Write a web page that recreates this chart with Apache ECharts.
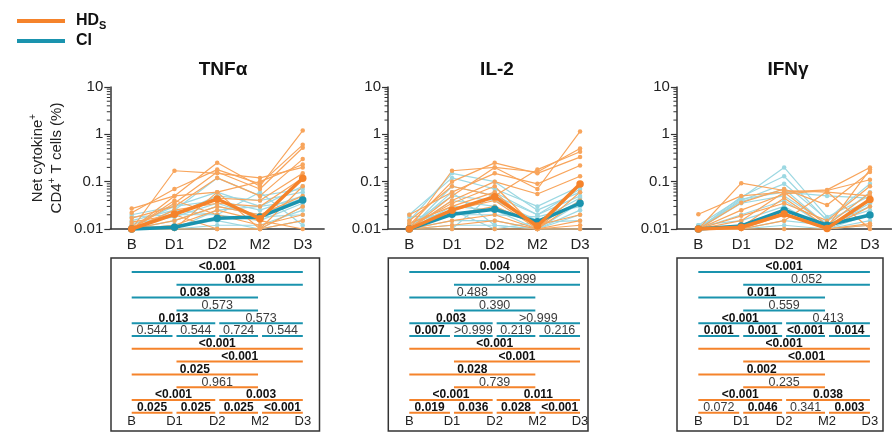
<!DOCTYPE html>
<html>
<head>
<meta charset="utf-8">
<script src="https://cdn.jsdelivr.net/npm/echarts@6/dist/echarts.min.js"></script>
<style>
html,body{margin:0;padding:0;background:#fff}
#chart{width:892px;height:444px}
</style>
</head>
<body>
<div id="chart"></div>
<script>
// ---- categories & labels ----
const timepoints = ['B', 'D1', 'D2', 'M2', 'D3'];
const panelTitles = ['TNFα', 'IL-2', 'IFNγ'];
const yTickLabels = { '-2': '0.01', '-1': '0.1', '0': '1', '1': '10' };

// ---- TNFα ----
const tnfHDsMean = [0.010, 0.0205, 0.043, 0.0165, 0.118];
const tnfCIMean  = [0.010, 0.0109, 0.0168, 0.018, 0.041];
const tnfHDsDonors = [
  [0.010, 0.170, 0.150, 0.120, 0.200],
  [0.027, 0.050, 0.250, 0.080, 1.200],
  [0.022, 0.070, 0.180, 0.090, 0.600],
  [0.010, 0.035, 0.160, 0.070, 0.520],
  [0.017, 0.030, 0.120, 0.050, 0.300],
  [0.010, 0.050, 0.060, 0.100, 0.230],
  [0.014, 0.020, 0.045, 0.040, 0.150],
  [0.010, 0.025, 0.035, 0.030, 0.120],
  [0.010, 0.015, 0.030, 0.020, 0.050],
  [0.010, 0.010, 0.060, 0.010, 0.030],
  [0.010, 0.040, 0.020, 0.012, 0.020],
  [0.012, 0.010, 0.010, 0.010, 0.015],
  [0.010, 0.012, 0.025, 0.015, 0.010],
  [0.010, 0.020, 0.010, 0.010, 0.080]
];
const tnfCIDonors = [
  [0.020, 0.030, 0.060, 0.030, 0.080],
  [0.015, 0.025, 0.120, 0.050, 0.070],
  [0.010, 0.020, 0.050, 0.040, 0.060],
  [0.012, 0.030, 0.040, 0.025, 0.050],
  [0.010, 0.015, 0.030, 0.020, 0.045],
  [0.010, 0.010, 0.025, 0.030, 0.040],
  [0.018, 0.020, 0.020, 0.015, 0.035],
  [0.010, 0.012, 0.015, 0.010, 0.030],
  [0.010, 0.010, 0.012, 0.012, 0.025],
  [0.013, 0.018, 0.035, 0.018, 0.020],
  [0.010, 0.010, 0.010, 0.010, 0.015],
  [0.010, 0.025, 0.020, 0.060, 0.012]
];

// ---- IL-2 ----
const il2HDsMean = [0.010, 0.025, 0.048, 0.0116, 0.089];
const il2CIMean  = [0.010, 0.0205, 0.026, 0.0143, 0.035];
const il2HDsDonors = [
  [0.010, 0.170, 0.200, 0.160, 0.500],
  [0.012, 0.100, 0.250, 0.150, 0.330],
  [0.020, 0.060, 0.150, 0.090, 0.220],
  [0.015, 0.080, 0.050, 0.180, 0.430],
  [0.010, 0.050, 0.200, 0.070, 1.150],
  [0.010, 0.040, 0.100, 0.055, 0.130],
  [0.013, 0.030, 0.060, 0.010, 0.090],
  [0.010, 0.025, 0.040, 0.010, 0.040],
  [0.010, 0.020, 0.030, 0.012, 0.020],
  [0.010, 0.015, 0.020, 0.010, 0.015],
  [0.010, 0.012, 0.015, 0.010, 0.012],
  [0.010, 0.010, 0.010, 0.010, 0.010],
  [0.011, 0.035, 0.080, 0.010, 0.060]
];
const il2CIDonors = [
  [0.015, 0.150, 0.100, 0.025, 0.060],
  [0.020, 0.120, 0.070, 0.030, 0.080],
  [0.010, 0.080, 0.050, 0.020, 0.050],
  [0.012, 0.050, 0.040, 0.015, 0.045],
  [0.010, 0.040, 0.030, 0.012, 0.040],
  [0.010, 0.030, 0.025, 0.010, 0.035],
  [0.018, 0.020, 0.020, 0.018, 0.030],
  [0.010, 0.015, 0.015, 0.010, 0.025],
  [0.010, 0.012, 0.012, 0.010, 0.020],
  [0.013, 0.025, 0.010, 0.014, 0.015],
  [0.010, 0.010, 0.060, 0.020, 0.070],
  [0.010, 0.060, 0.012, 0.010, 0.010]
];

// ---- IFNγ ----
const ifnHDsMean = [0.010, 0.0109, 0.0207, 0.0103, 0.042];
const ifnCIMean  = [0.010, 0.0116, 0.025, 0.012, 0.0198];
const ifnHDsDonors = [
  [0.0205, 0.050, 0.060, 0.067, 0.200],
  [0.010, 0.093, 0.065, 0.060, 0.050],
  [0.010, 0.036, 0.070, 0.032, 0.160],
  [0.010, 0.025, 0.055, 0.065, 0.110],
  [0.010, 0.019, 0.035, 0.015, 0.080],
  [0.010, 0.015, 0.060, 0.012, 0.058],
  [0.010, 0.012, 0.025, 0.010, 0.030],
  [0.010, 0.010, 0.020, 0.010, 0.013],
  [0.010, 0.010, 0.010, 0.010, 0.012],
  [0.010, 0.011, 0.045, 0.011, 0.180],
  [0.010, 0.010, 0.015, 0.062, 0.010]
];
const ifnCIDonors = [
  [0.012, 0.045, 0.200, 0.018, 0.050],
  [0.010, 0.048, 0.130, 0.015, 0.040],
  [0.010, 0.040, 0.090, 0.016, 0.090],
  [0.011, 0.038, 0.070, 0.012, 0.030],
  [0.010, 0.035, 0.050, 0.013, 0.025],
  [0.010, 0.020, 0.040, 0.011, 0.035],
  [0.012, 0.015, 0.030, 0.010, 0.020],
  [0.010, 0.012, 0.020, 0.010, 0.015],
  [0.010, 0.010, 0.015, 0.012, 0.060],
  [0.010, 0.010, 0.012, 0.010, 0.012],
  [0.010, 0.043, 0.060, 0.050, 0.045]
];

// ---- pairwise comparisons (index pairs into timepoints) and their row in the table ----
const comparisonPairs = [[0,4],[1,4],[0,3],[1,3],[0,2],[2,4],[0,1],[1,2],[2,3],[3,4]];
const comparisonRows  = [1, 2, 3, 4, 5, 5, 6, 6, 6, 6];

const tnfCIP  = ['<0.001','0.038','0.038','0.573','0.013','0.573','0.544','0.544','0.724','0.544'];
const tnfHDsP = ['<0.001','<0.001','0.025','0.961','<0.001','0.003','0.025','0.025','0.025','<0.001'];
const il2CIP  = ['0.004','>0.999','0.488','0.390','0.003','>0.999','0.007','>0.999','0.219','0.216'];
const il2HDsP = ['<0.001','<0.001','0.028','0.739','<0.001','0.011','0.019','0.036','0.028','<0.001'];
const ifnCIP  = ['<0.001','0.052','0.011','0.559','<0.001','0.413','0.001','0.001','<0.001','0.014'];
const ifnHDsP = ['<0.001','<0.001','0.002','0.235','<0.001','0.038','0.072','0.046','0.341','0.003'];

// ---- styling ----
const HD_MAIN = '#f5832b', CI_MAIN = '#1a93ae';
const HD_LIGHT = '#f8a55c', CI_LIGHT = '#9cd8e2';
const AXIS = '#333';
const FONT = '"Liberation Sans", Arial, sans-serif';

const panels = [
  { hdMean: tnfHDsMean, ciMean: tnfCIMean, hd: tnfHDsDonors, ci: tnfCIDonors, ciP: tnfCIP, hdP: tnfHDsP },
  { hdMean: il2HDsMean, ciMean: il2CIMean, hd: il2HDsDonors, ci: il2CIDonors, ciP: il2CIP, hdP: il2HDsP },
  { hdMean: ifnHDsMean, ciMean: ifnCIMean, hd: ifnHDsDonors, ci: ifnCIDonors, ciP: ifnCIP, hdP: ifnHDsP }
];

// plot geometry per panel: grid left / width for the line plots, table box bounds
const plotGrids = [
  { left: 110.3, width: 213.8 },
  { left: 388.0, width: 213.4 },
  { left: 676.9, width: 214.5 }
];
const tableBoxes = [
  { left: 111, right: 319.5, min: -0.484, max: 4.39 },
  { left: 388.3, right: 588, min: -0.492, max: 4.187 },
  { left: 677, right: 883, min: -0.497, max: 4.305 }
];
const PLOT_TOP = 87, PLOT_H = 142;
const TABLE_TOP = 258, TABLE_H = 173;
const ROW_MIN = -0.094, ROW_MAX = 13.42, LABEL_ROW = 12.68;

// plots use grid/axis indices 0..2, tables use 3..5
const plotGridList = [], plotX = [], plotY = [];
const tableGridList = [], tableX = [], tableY = [];
const series = [];

function isSignificant(p) {
  if (p.startsWith('<')) return true;
  if (p.startsWith('>')) return false;
  return parseFloat(p) < 0.05;
}

// minor log ticks for the y axes (2..9 in each decade)
const minorTickValues = [];
[-2, -1, 0].forEach(e => { for (let m = 2; m <= 9; m++) minorTickValues.push(m * Math.pow(10, e)); });

panels.forEach((p, i) => {
  const g = plotGrids[i];
  plotGridList.push({ left: g.left, top: PLOT_TOP, width: g.width, height: PLOT_H, containLabel: false });
  plotX.push({
    type: 'category', gridIndex: i, data: timepoints, boundaryGap: true,
    axisLine: { lineStyle: { color: AXIS, width: 1.5 } },
    axisTick: { alignWithLabel: true, length: 5, lineStyle: { color: AXIS, width: 1.2 } },
    axisLabel: { fontSize: 15, color: '#222', fontFamily: FONT, margin: 8 },
    splitLine: { show: false }
  });
  const yAxis = {
    type: 'log', logBase: 10, gridIndex: i, min: 0.01, max: 10,
    axisLine: { show: true, lineStyle: { color: AXIS, width: 1.5 } },
    axisTick: { show: true, length: 6, lineStyle: { color: AXIS, width: 1.2 } },
    axisLabel: {
      fontSize: 15, color: '#222', fontFamily: FONT, margin: 7,
      formatter: v => yTickLabels[String(Math.round(Math.log10(v)))] || ''
    },
    splitLine: { show: false }
  };
  if (i === 0) {
    Object.assign(yAxis, {
      name: 'Net cytokine{sup|+}\nCD4{sup|+} T cells (%)',
      nameLocation: 'middle', nameRotate: 90, nameGap: 44,
      nameTextStyle: {
        fontSize: 15, color: '#222', fontFamily: FONT, lineHeight: 19,
        rich: { sup: { fontSize: 10, color: '#222', fontFamily: FONT, verticalAlign: 'top' } }
      }
    });
  }
  plotY.push(yAxis);

  // minor ticks on the log axis
  series.push({
    type: 'custom', xAxisIndex: i, yAxisIndex: i, silent: true, z: 5,
    data: minorTickValues.map(v => [0, v]),
    encode: { x: 0, y: 1 },
    renderItem(params, api) {
      const y = api.coord([0, api.value(1)])[1];
      const x = params.coordSys.x;
      return { type: 'line', shape: { x1: x - 3.5, y1: y, x2: x, y2: y }, style: { stroke: AXIS, lineWidth: 1 } };
    }
  });

  const donorLine = (d, color, name) => ({
    type: 'line', name, xAxisIndex: i, yAxisIndex: i, data: d, silent: true, clip: false,
    symbol: 'circle', symbolSize: 4.5, showSymbol: true,
    lineStyle: { color, width: 1.2 },
    itemStyle: { color },
    emphasis: { disabled: true }, z: 2
  });
  p.ci.forEach(d => series.push(donorLine(d, CI_LIGHT, 'CI donor')));
  p.hd.forEach(d => series.push(donorLine(d, HD_LIGHT, 'HDs donor')));

  const meanLine = (d, color, name, z) => ({
    type: 'line', name, xAxisIndex: i, yAxisIndex: i, data: d, clip: false,
    symbol: 'circle', symbolSize: 7.5,
    lineStyle: { color, width: 3.5 }, itemStyle: { color },
    emphasis: { disabled: true }, z
  });
  series.push(meanLine(p.ciMean, CI_MAIN, 'CI', 3));
  series.push(meanLine(p.hdMean, HD_MAIN, 'HDs', 4));

  // ---- comparison table below each plot ----
  const b = tableBoxes[i];
  const gi = 3 + i;
  tableGridList.push({
    left: b.left, top: TABLE_TOP, width: b.right - b.left, height: TABLE_H,
    show: true, borderColor: '#333', borderWidth: 1.5, backgroundColor: 'transparent'
  });
  tableX.push({ type: 'value', gridIndex: gi, min: b.min, max: b.max, show: false });
  tableY.push({ type: 'value', gridIndex: gi, min: ROW_MIN, max: ROW_MAX, inverse: true, show: false });

  const items = [];
  [[p.ciP, 0, CI_MAIN], [p.hdP, 6, HD_MAIN]].forEach(([pv, rowOffset, color]) => {
    comparisonPairs.forEach((pr, j) => {
      items.push({ value: [pr[0], pr[1], comparisonRows[j] + rowOffset], text: pv[j], color });
    });
  });
  series.push({
    type: 'custom', xAxisIndex: gi, yAxisIndex: gi, silent: true,
    data: items.map(d => d.value),
    encode: { x: [0, 1], y: 2 },
    renderItem(params, api) {
      const it = items[params.dataIndex];
      const s = api.value(0), e = api.value(1), r = api.value(2);
      const p1 = api.coord([s, r]), p2 = api.coord([e, r]);
      const x1 = p1[0] + (s > 0 ? 2 : 0);
      const x2 = p2[0] - (e < 4 ? 2 : 0);
      const y = p1[1];
      const bold = isSignificant(it.text);
      return {
        type: 'group',
        children: [
          { type: 'line', shape: { x1, y1: y, x2, y2: y }, style: { stroke: it.color, lineWidth: 2 } },
          {
            type: 'text', x: (x1 + x2) / 2, y: y - 5,
            style: {
              text: it.text, align: 'center', verticalAlign: 'middle',
              font: (bold ? 'bold 12px ' : '12.5px ') + FONT,
              fill: bold ? '#111' : '#3c3c3c'
            }
          }
        ]
      };
    }
  });
  series.push({
    type: 'custom', xAxisIndex: gi, yAxisIndex: gi, silent: true,
    data: timepoints.map((t, k) => [k, LABEL_ROW]),
    encode: { x: 0, y: 1 },
    renderItem(params, api) {
      const pt = api.coord([api.value(0), api.value(1)]);
      return {
        type: 'text', x: pt[0], y: pt[1],
        style: { text: timepoints[params.dataIndex], align: 'center', verticalAlign: 'middle', font: '13px ' + FONT, fill: '#222' }
      };
    }
  });
});

const titleCenters = [218, 492, 783];
const chart = echarts.init(document.getElementById('chart'));
chart.setOption({
  animation: false,
  backgroundColor: '#fff',
  title: panelTitles.map((t, i) => ({
    text: t, left: titleCenters[i], top: 55, textAlign: 'center',
    textStyle: { fontSize: 19, fontWeight: 'bold', color: '#111', fontFamily: FONT }
  })),
  legend: {
    orient: 'vertical', left: 12, top: 6, itemGap: 0,
    itemWidth: 48, itemHeight: 4,
    data: [{ name: 'HDs', icon: 'rect' }, { name: 'CI', icon: 'rect' }],
    formatter: n => n === 'HDs' ? 'HD{sub|S}' : n,
    selectedMode: false,
    textStyle: {
      fontSize: 16, fontWeight: 'bold', color: '#111', fontFamily: FONT, lineHeight: 20,
      padding: [0, 0, 0, 6],
      rich: { sub: { fontSize: 11, fontWeight: 'bold', color: '#111', fontFamily: FONT, verticalAlign: 'bottom' } }
    }
  },
  grid: plotGridList.concat(tableGridList),
  xAxis: plotX.concat(tableX),
  yAxis: plotY.concat(tableY),
  series
});
</script>
</body>
</html>
